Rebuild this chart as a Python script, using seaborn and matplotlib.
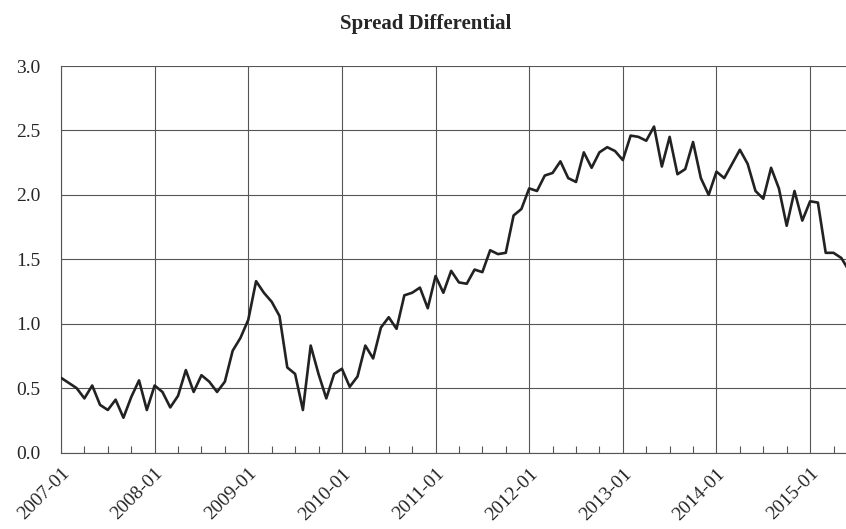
import numpy as np
import pandas as pd
import matplotlib
matplotlib.use("Agg")
import matplotlib.pyplot as plt
import seaborn as sns
from matplotlib.ticker import MultipleLocator, FixedLocator

# ---- data (monthly, 2007-01 .. 2015-06) ----
spread = [
    0.58, 0.54, 0.50, 0.42, 0.52, 0.37, 0.33, 0.41, 0.27, 0.43, 0.56, 0.33,   # 2007
    0.52, 0.47, 0.35, 0.44, 0.64, 0.47, 0.60, 0.55, 0.47, 0.55, 0.79, 0.89,   # 2008
    1.03, 1.33, 1.24, 1.17, 1.06, 0.66, 0.61, 0.33, 0.83, 0.61, 0.42, 0.61,   # 2009
    0.65, 0.51, 0.59, 0.83, 0.73, 0.97, 1.05, 0.96, 1.22, 1.24, 1.28, 1.12,   # 2010
    1.37, 1.24, 1.41, 1.32, 1.31, 1.42, 1.40, 1.57, 1.54, 1.55, 1.84, 1.89,   # 2011
    2.05, 2.03, 2.15, 2.17, 2.26, 2.13, 2.10, 2.33, 2.21, 2.33, 2.37, 2.34,   # 2012
    2.27, 2.46, 2.45, 2.42, 2.53, 2.22, 2.45, 2.16, 2.20, 2.41, 2.13, 2.00,   # 2013
    2.18, 2.13, 2.24, 2.35, 2.24, 2.03, 1.97, 2.21, 2.05, 1.76, 2.03, 1.80,   # 2014
    1.95, 1.94, 1.55, 1.55, 1.51, 1.41,                                       # 2015
]
month_index = list(range(len(spread)))
tick_positions = [0, 12, 24, 36, 48, 60, 72, 84, 96]
tick_labels = ["2007-01", "2008-01", "2009-01", "2010-01", "2011-01",
               "2012-01", "2013-01", "2014-01", "2015-01"]
y_ticks = [0.0, 0.5, 1.0, 1.5, 2.0, 2.5, 3.0]
title = "Spread Differential"

df = pd.DataFrame({"month": month_index, "spread": spread})

sns.set_style("white")
plt.rcParams["font.family"] = ["Liberation Serif", "DejaVu Serif"]

fig = plt.figure(figsize=(8.46, 5.29), dpi=100)
ax = fig.add_axes([0.0721, 0.1446, 0.9279, 0.7306])

sns.lineplot(data=df, x="month", y="spread", ax=ax, color="#222222",
             linewidth=1.9, zorder=3)

ax.set_xlim(0, 100.6)
ax.set_ylim(0, 3.0)
ax.xaxis.set_major_locator(FixedLocator(tick_positions))
ax.set_xticks(tick_positions)
ax.set_xticklabels(tick_labels, rotation=45, ha="right", rotation_mode="anchor")
ax.xaxis.set_minor_locator(MultipleLocator(3))
ax.set_yticks(y_ticks)
ax.set_yticklabels([f"{v:.1f}" for v in y_ticks])

ax.grid(True, which="major", color="#555555", linewidth=0.8)
ax.set_axisbelow(True)

ax.tick_params(axis="x", which="major", direction="out", length=5,
               width=0.8, color="#555555", labelsize=14, pad=4)
ax.tick_params(axis="x", which="minor", direction="in", length=5,
               width=0.8, color="#555555", bottom=True)
ax.tick_params(axis="y", which="major", direction="out", length=8,
               width=0.8, color="#555555", labelsize=14, pad=7)

for s in ["top", "right"]:
    ax.spines[s].set_visible(False)
for s in ["left", "bottom"]:
    ax.spines[s].set_color("#555555")
    ax.spines[s].set_linewidth(0.8)

ax.set_xlabel("")
ax.set_ylabel("")

fig.text(0.503, 0.955, title, ha="center", va="center", fontsize=15,
         fontweight="bold")

fig.savefig("out.png", dpi=100)
